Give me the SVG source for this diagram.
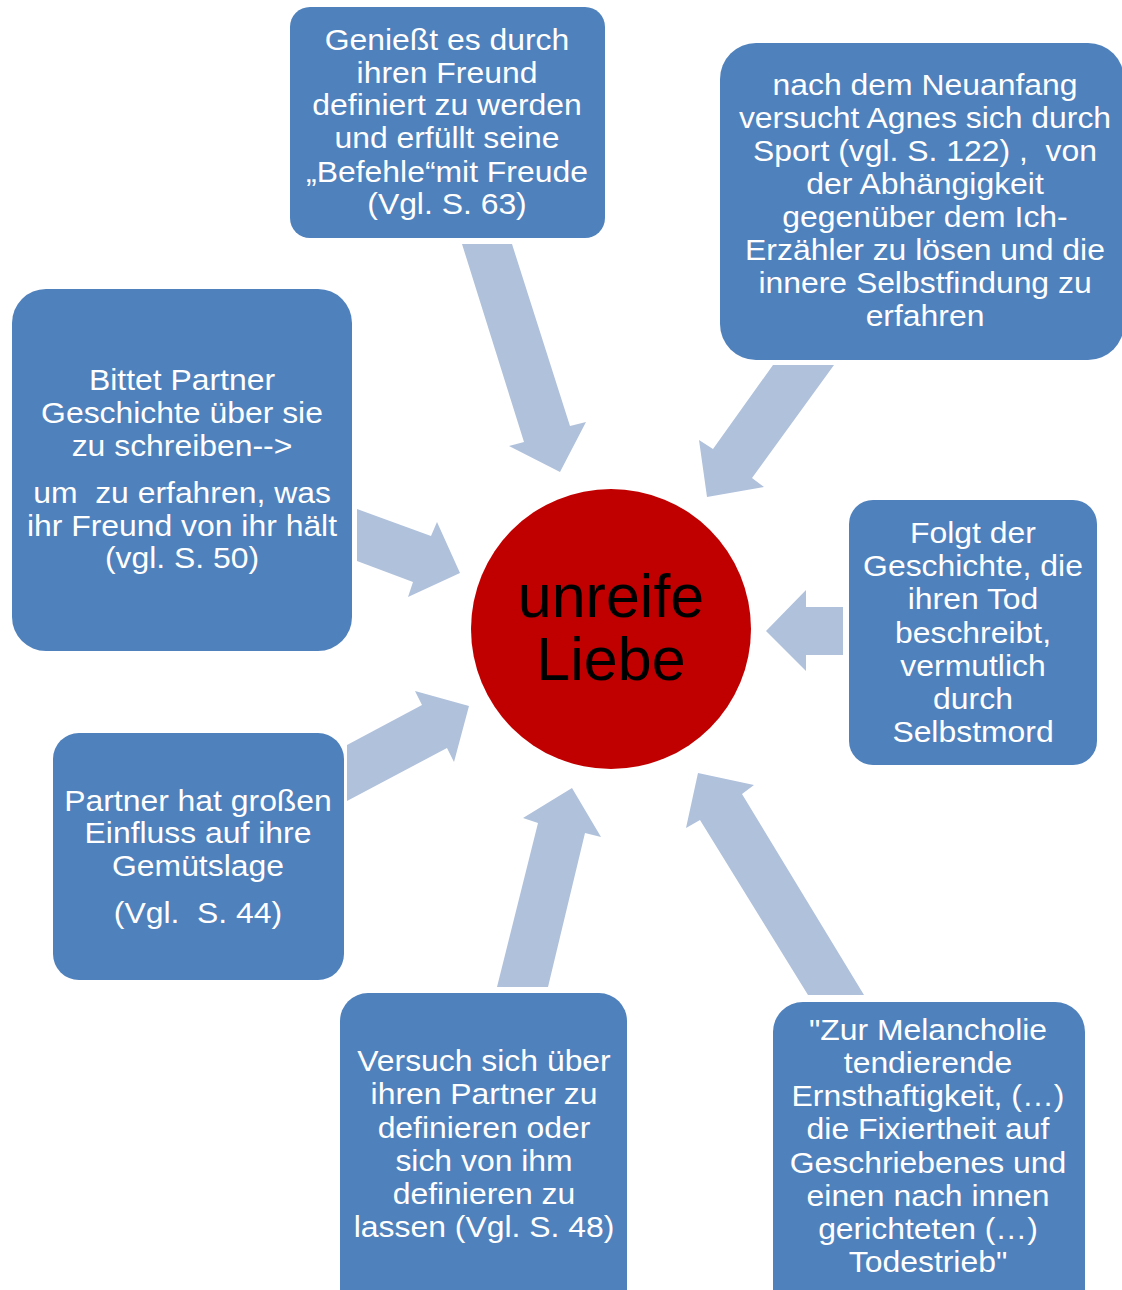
<svg xmlns="http://www.w3.org/2000/svg" width="1122" height="1290" viewBox="0 0 1122 1290">
<style>
.box{fill:#4F81BD;}
.t{font-family:"Liberation Sans",Arial,sans-serif;font-size:29px;fill:#FFFFFF;text-anchor:middle;white-space:pre;}
.arr{fill:#B0C1DC;}
.c{font-family:"Liberation Sans",Arial,sans-serif;font-size:61px;fill:#000000;text-anchor:middle;}
</style>
<rect width="1122" height="1290" fill="#FFFFFF"/>
<g id="connectors">
<polygon class="arr" points="462,244 512,244 570,426 586,422 560,472 509,446 524,442"/>
<polygon class="arr" points="773,365 834,365 752,478 764,487 707,497 699,440 713,449"/>
<polygon class="arr" points="357,509 431,536 437,522 460,573 408,597 413,582 357,561"/>
<polygon class="arr" points="843,607 806,607 806,590 766,631 806,671 806,655 843,655"/>
<polygon class="arr" points="347,745 422,705 415,691 469,706 454,762 447,748 347,801"/>
<polygon class="arr" points="497,987 538,823 523,818 572,788 601,837 585,833 548,987"/>
<polygon class="arr" points="808,995 700,820 686,828 698,773 754,785 742,794 864,995"/>
</g>
<g id="center">
<circle cx="611" cy="629" r="140" fill="#C00000"/>
<text class="c" x="611" y="617">unreife</text>
<text class="c" x="611" y="680">Liebe</text>
</g>
<g id="node1">
<rect class="box" x="290" y="7" width="315" height="231" rx="20"/>
<g transform="translate(447 0) scale(1.1 1)">
<text class="t" x="0" y="50">Genießt es durch</text>
<text class="t" x="0" y="83">ihren Freund</text>
<text class="t" x="0" y="115">definiert zu werden</text>
<text class="t" x="0" y="148">und erfüllt seine</text>
<text class="t" x="0" y="182">„Befehle“mit Freude</text>
<text class="t" x="0" y="214">(Vgl. S. 63)</text>
</g>
</g>
<g id="node2">
<rect class="box" x="720" y="43" width="404" height="317" rx="36"/>
<g transform="translate(925 0) scale(1.1 1)">
<text class="t" x="0" y="95">nach dem Neuanfang</text>
<text class="t" x="0" y="128">versucht Agnes sich durch</text>
<text class="t" x="0" y="161">Sport (vgl. S. 122) ,  von</text>
<text class="t" x="0" y="194">der Abhängigkeit</text>
<text class="t" x="0" y="227">gegenüber dem Ich-</text>
<text class="t" x="0" y="260">Erzähler zu lösen und die</text>
<text class="t" x="0" y="293">innere Selbstfindung zu</text>
<text class="t" x="0" y="326">erfahren</text>
</g>
</g>
<g id="node3">
<rect class="box" x="12" y="289" width="340" height="362" rx="34"/>
<g transform="translate(182 0) scale(1.1 1)">
<text class="t" x="0" y="390">Bittet Partner</text>
<text class="t" x="0" y="423">Geschichte über sie</text>
<text class="t" x="0" y="456">zu schreiben--&gt;</text>
<text class="t" x="0" y="503">um  zu erfahren, was</text>
<text class="t" x="0" y="536">ihr Freund von ihr hält</text>
<text class="t" x="0" y="568">(vgl. S. 50)</text>
</g>
</g>
<g id="node4">
<rect class="box" x="849" y="500" width="248" height="265" rx="24"/>
<g transform="translate(973 0) scale(1.1 1)">
<text class="t" x="0" y="543">Folgt der</text>
<text class="t" x="0" y="576">Geschichte, die</text>
<text class="t" x="0" y="609">ihren Tod</text>
<text class="t" x="0" y="643">beschreibt,</text>
<text class="t" x="0" y="676">vermutlich</text>
<text class="t" x="0" y="709">durch</text>
<text class="t" x="0" y="742">Selbstmord</text>
</g>
</g>
<g id="node5">
<rect class="box" x="53" y="733" width="291" height="247" rx="26"/>
<g transform="translate(198 0) scale(1.1 1)">
<text class="t" x="0" y="811">Partner hat großen</text>
<text class="t" x="0" y="843">Einfluss auf ihre</text>
<text class="t" x="0" y="876">Gemütslage</text>
<text class="t" x="0" y="923">(Vgl.  S. 44)</text>
</g>
</g>
<g id="node6">
<rect class="box" x="340" y="993" width="287" height="330" rx="28"/>
<g transform="translate(484 0) scale(1.1 1)">
<text class="t" x="0" y="1071">Versuch sich über</text>
<text class="t" x="0" y="1104">ihren Partner zu</text>
<text class="t" x="0" y="1138">definieren oder</text>
<text class="t" x="0" y="1171">sich von ihm</text>
<text class="t" x="0" y="1204">definieren zu</text>
<text class="t" x="0" y="1237">lassen (Vgl. S. 48)</text>
</g>
</g>
<g id="node7">
<rect class="box" x="773" y="1002" width="312" height="330" rx="30"/>
<g transform="translate(928 0) scale(1.1 1)">
<text class="t" x="0" y="1040">"Zur Melancholie</text>
<text class="t" x="0" y="1073">tendierende</text>
<text class="t" x="0" y="1106">Ernsthaftigkeit, (…)</text>
<text class="t" x="0" y="1139">die Fixiertheit auf</text>
<text class="t" x="0" y="1173">Geschriebenes und</text>
<text class="t" x="0" y="1206">einen nach innen</text>
<text class="t" x="0" y="1239">gerichteten (…)</text>
<text class="t" x="0" y="1272">Todestrieb"</text>
</g>
</g>
</svg>
